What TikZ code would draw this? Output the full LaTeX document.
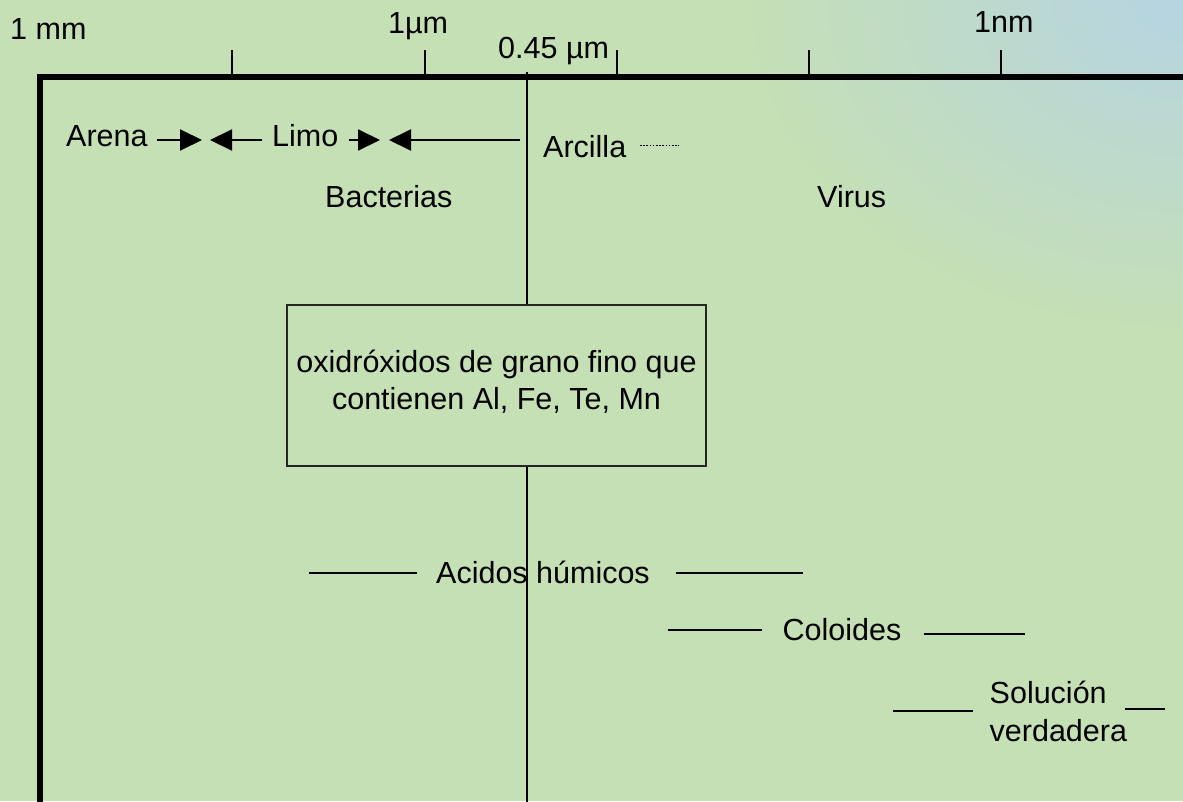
\documentclass[tikz,border=0pt]{standalone}
\usepackage{fontspec}
\setmainfont{Liberation Sans}
\usetikzlibrary{arrows.meta}

\definecolor{bggreen}{RGB}{197,224,180}
\definecolor{bgblue}{RGB}{182,212,226}
% soft bluish glow spreading from the upper right corner
\pgfdeclareradialshading{cornerglow}{\pgfpoint{0bp}{0bp}}{color(0bp)=(bgblue); color(25bp)=(bggreen); color(50bp)=(bggreen)}

\tikzset{
  axisline/.style={line width=6pt, line join=miter},
  thinline/.style={line width=2pt},
  tickline/.style={line width=1.8pt},
  rangebar/.style={line width=2pt},
  lbl/.style={inner sep=0pt, anchor=base west},
  arr/.style={line width=2pt, -{Triangle[length=22pt,width=21pt]}},
  dotline/.style={line width=1.8pt, dash pattern=on 1.6pt off 1.6pt},
  infobox/.style={draw=black!85, line width=1.3pt, minimum width=419pt,
    minimum height=161pt, inner sep=0pt, align=center},
}

\begin{document}
\begin{tikzpicture}[x=1pt, y=-1pt, font=\fontsize{30.5}{37}\selectfont]
\useasboundingbox (0,0) rectangle (1183,801);

% background
\fill[bggreen] (0,0) rectangle (1183,801);
\begin{scope}
  \clip (0,0) rectangle (1183,801);
  \shade[shading=cornerglow] (1183,0) ellipse [x radius=450, y radius=340];
\end{scope}

% size axis
\coordinate (origin) at (40,77);
\coordinate (axisend) at (1190,77);
\coordinate (axisbottom) at (40,805);
\draw[axisline] (axisend) -- (origin) -- (axisbottom);

% ticks
\foreach \tx [count=\i] in {232,425,617,809,1001}{
  \coordinate (tick\i top) at (\tx,50);
  \coordinate (tick\i bot) at (\tx,74);
  \draw[tickline] (tick\i top) -- (tick\i bot);
}

% scale labels
\node[lbl] (mm) at (10,39) {1 mm};
\node[lbl] (um) at (388,33) {1µm};
\node[lbl] (cutlbl) at (498,58) {0.45 µm};
\node[lbl] (nm) at (974,32) {1nm};

% particle classes
\node[lbl] (arena) at (66,146.5) {Arena};
\node[lbl] (limo) at (272,146.5) {Limo};
\node[lbl] (arcilla) at (543,157) {Arcilla};
\node[lbl] (bact) at (325,207) {Bacterias};
\node[lbl] (virus) at (817,207) {Virus};

% boxed note
\node[infobox] (box) at (496.5,385.5)
  {oxidróxidos de grano fino que\\contienen Al, Fe, Te, Mn\rule[-12pt]{0pt}{0pt}};

% 0.45 um cut-off line
\coordinate (cut) at (527,72);
\coordinate (cutend) at (527,805);
\draw[thinline] (cut) -- (cut |- box.north);
\draw[thinline] (cut |- box.south) -- (cutend);

% arrows between the classes
\coordinate (a1s) at (157,140); \coordinate (a1t) at (202,140);
\coordinate (a2t) at (210,140); \coordinate (a2s) at (262,140);
\coordinate (a3s) at (349,140); \coordinate (a3t) at (380,140);
\coordinate (a4t) at (389,140); \coordinate (a4s) at (520,140);
\draw[arr] (a1s) -- (a1t);
\draw[arr] (a2s) -- (a2t);
\draw[arr] (a3s) -- (a3t);
\draw[arr] (a4s) -- (a4t);

\coordinate (d1) at (640,145.5); \coordinate (d2) at (679,145.5);
\draw[dotline] (d1) -- (d2);

% dissolved / colloidal ranges
\node[lbl] (acidos) at (436,583) {Acidos húmicos};
\node[lbl] (coloides) at (782.5,640) {Coloides};
\node[inner sep=0pt, anchor=north west, align=left,
      font=\fontsize{30.5}{38}\selectfont] (sol) at (989.5,681) {Solución\\verdadera};

\coordinate (h1) at (309,573); \coordinate (h2) at (417,573);
\coordinate (h3) at (676,573); \coordinate (h4) at (803,573);
\draw[rangebar] (h1) -- (h2);
\draw[rangebar] (h3) -- (h4);

\coordinate (c1) at (668,630); \coordinate (c2) at (762,630);
\coordinate (c3) at (924,634); \coordinate (c4) at (1025,634);
\draw[rangebar] (c1) -- (c2);
\draw[rangebar] (c3) -- (c4);

\coordinate (s1) at (893,711); \coordinate (s2) at (973,711);
\coordinate (s3) at (1125,709); \coordinate (s4) at (1165,709);
\draw[rangebar] (s1) -- (s2);
\draw[rangebar] (s3) -- (s4);
\end{tikzpicture}
\end{document}
